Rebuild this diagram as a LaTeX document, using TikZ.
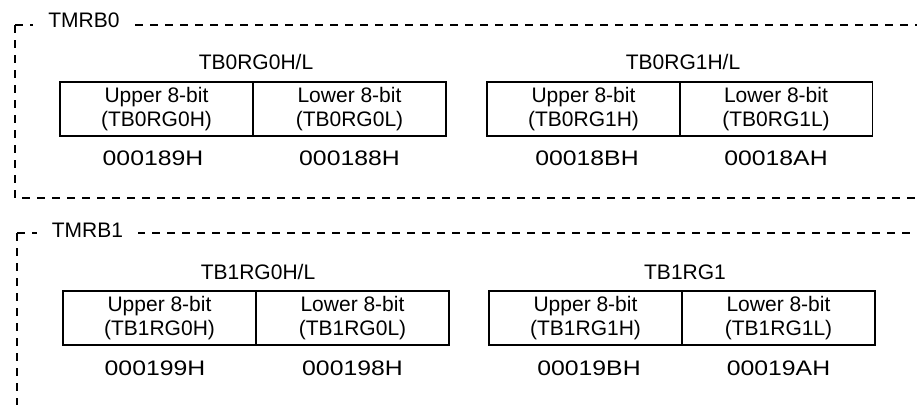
\documentclass[tikz,border=0pt]{standalone}
\usepackage{fontspec}
\setmainfont{Liberation Sans}
\newcommand{\addrtext}[1]{\scalebox{1.18}[1]{#1}}
\tikzset{
  txt/.style={font=\fontsize{21}{24}\selectfont, inner sep=0pt},
  cell/.style={txt, draw, line width=1.7pt, minimum width=193pt, minimum height=54pt, align=center},
  frameline/.style={line width=2pt, dash pattern=on 8pt off 7pt},
  framelabel/.style={txt, fill=white, inner xsep=15pt, inner ysep=2pt, anchor=base},
}
\begin{document}
\begin{tikzpicture}[x=1pt,y=-1pt]
\useasboundingbox[fill=white] (0,0) rectangle (917,405);
% TMRB0 frame
\coordinate (f0tl) at (15,25);
\coordinate (f0tr) at (917,25);
\coordinate (f0bl) at (15,198);
\coordinate (f0br) at (917,198);
\draw[frameline] (f0tl) -- (f0tr);
\draw[frameline] (f0tl) -- (f0bl) -- (f0br);
\node[framelabel] (lbl0) at (84,27) {TMRB0};
% TMRB1 frame
\coordinate (f1tl) at (17,233);
\coordinate (f1tr) at (917,233);
\coordinate (f1bl) at (17,405);
\draw[frameline] (f1tl) -- (f1tr);
\draw[frameline] (f1tl) -- (f1bl);
\node[framelabel] (lbl1) at (87.5,237) {TMRB1};
% TMRB0 registers
\node[txt] (t00) at (256,62) {TB0RG0H/L};
\node[cell] (c00h) at (156.5,109) {Upper 8-bit\\(TB0RG0H)};
\node[cell] (c00l) at (349.5,109) {Lower 8-bit\\(TB0RG0L)};
\node[txt] (a00h) at (153,158) {\addrtext{000189H}};
\node[txt] (a00l) at (349.5,158) {\addrtext{000188H}};
\node[txt] (t01) at (683,62) {TB0RG1H/L};
\node[cell] (c01h) at (583.5,109) {Upper 8-bit\\(TB0RG1H)};
\node[cell] (c01l) at (776,109) {Lower 8-bit\\(TB0RG1L)};
\node[txt] (a01h) at (587,158) {\addrtext{00018BH}};
\node[txt] (a01l) at (776,158) {\addrtext{00018AH}};
% TMRB1 registers
\node[txt] (t10) at (258,272) {TB1RG0H/L};
\node[cell] (c10h) at (159.5,318) {Upper 8-bit\\(TB1RG0H)};
\node[cell] (c10l) at (352.5,318) {Lower 8-bit\\(TB1RG0L)};
\node[txt] (a10h) at (155,368) {\addrtext{000199H}};
\node[txt] (a10l) at (352.5,368) {\addrtext{000198H}};
\node[txt] (t11) at (685,272) {TB1RG1};
\node[cell] (c11h) at (585.5,318) {Upper 8-bit\\(TB1RG1H)};
\node[cell] (c11l) at (778.5,318) {Lower 8-bit\\(TB1RG1L)};
\node[txt] (a11h) at (589,368) {\addrtext{00019BH}};
\node[txt] (a11l) at (778.5,368) {\addrtext{00019AH}};
\end{tikzpicture}
\end{document}
